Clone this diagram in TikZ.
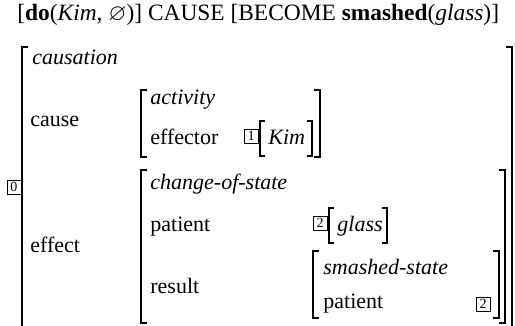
\documentclass[tikz,border=0pt]{standalone}
\usepackage{amssymb}
\usepackage{fontspec}
\setmainfont{Liberation Serif}
\tikzset{
  avmtext/.style={anchor=base west, inner sep=0pt, font=\fontsize{11}{13}\selectfont},
  avmtype/.style={avmtext, font=\fontsize{11}{13}\selectfont\itshape},
  avmtag/.style={draw, line width=0.4pt, inner sep=0.6pt, minimum size=7pt,
    font=\fontsize{7}{8}\selectfont},
  avmbrack/.style={line width=0.9pt},
}
\begin{document}
\begin{tikzpicture}[x=0.5pt, y=-0.5pt]
  \useasboundingbox (0,0) rectangle (515,326);
  \clip (0,0) rectangle (515,326);
  % semantic formula
  \node[avmtext, font=\fontsize{11.7}{14}\selectfont] (formula) at (17,21) {[\textbf{do}(\textit{Kim}, $\varnothing$)] CAUSE [BECOME \textbf{smashed}(\textit{glass})]};
  % outer matrix
  \node[avmtag] (tag0) at (14,187) {0};
  \draw[avmbrack] (28,47) -| (22,340);
  \draw[avmbrack] (506,47) -| (512,340);
  \node[avmtype] (causation) at (32,65) {causation};
  \node[avmtext] (cause) at (30,127) {cause};
  \node[avmtext] (effect) at (30,253) {effect};
  % cause value
  \draw[avmbrack] (147,90) -| (141,157) -- ++(6,0);
  \draw[avmbrack] (314,90) -| (320,157) -- ++(-6,0);
  \node[avmtype] (activity) at (150,105) {activity};
  \node[avmtext] (effector) at (150,145) {effector};
  \node[avmtag] (tag1) at (251,136) {1};
  \draw[avmbrack] (265,121) -| (260,156) -- ++(5,0);
  \node[avmtype] (kim) at (268,145) {Kim};
  \draw[avmbrack] (307,121) -| (312,156) -- ++(-5,0);
  % effect value
  \draw[avmbrack] (147,170) -| (141,323) -- ++(6,0);
  \draw[avmbrack] (499,170) -| (505,323) -- ++(-6,0);
  \node[avmtype] (change) at (150,190) {change-of-state};
  \node[avmtext] (patient) at (150,232) {patient};
  \node[avmtag] (tag2) at (320,223) {2};
  \draw[avmbrack] (334,208) -| (329,243) -- ++(5,0);
  \node[avmtype] (glass) at (337,232) {glass};
  \draw[avmbrack] (382,208) -| (387,243) -- ++(-5,0);
  \node[avmtext] (result) at (150,293) {result};
  % result value
  \draw[avmbrack] (319,251) -| (313,318) -- ++(6,0);
  \draw[avmbrack] (493,251) -| (499,318) -- ++(-6,0);
  \node[avmtype] (smashed) at (323,275) {smashed-state};
  \node[avmtext] (patient2) at (323,308) {patient};
  \node[avmtag] (tag2b) at (483,304) {2};
\end{tikzpicture}
\end{document}
